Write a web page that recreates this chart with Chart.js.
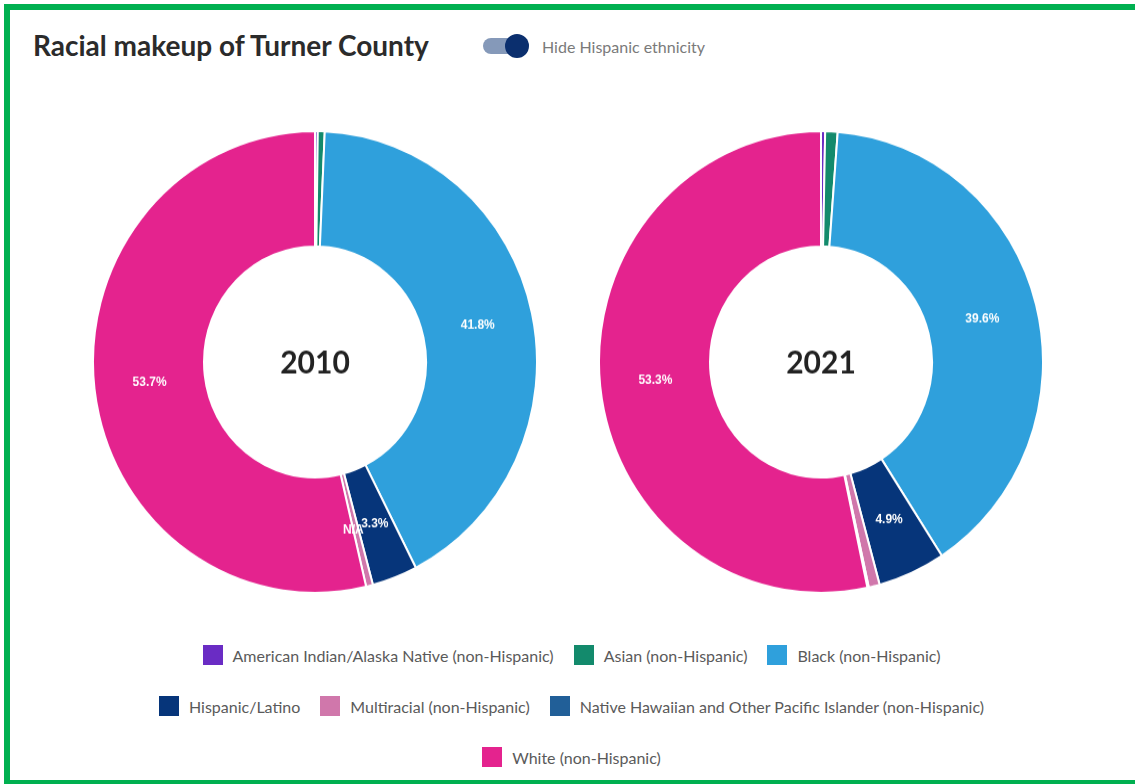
<!DOCTYPE html>
<html>
<head>
<meta charset="utf-8">
<script src="https://cdn.jsdelivr.net/npm/chart.js@4.4.1/dist/chart.umd.min.js"></script>
<style>
  html, body { margin: 0; padding: 0; background: #fff; }
  .page { width: 1135px; height: 784px; overflow: hidden; position: relative; font-family: Lato, "Noto Sans", sans-serif; }
  .frame { position: absolute; left: 4px; top: 4px; width: 1160px; height: 770px; border: 6px solid #00b050; }
  .title { position: absolute; left: 33px; top: 28px; font-size: 28px; font-weight: 700; color: #2b2b2b; white-space: nowrap; }
  .toggle { position: absolute; left: 483px; top: 38px; width: 34px; height: 16px; border-radius: 8px; background: #8599b9; }
  .knob { position: absolute; left: 505px; top: 34px; width: 24px; height: 24px; border-radius: 50%; background: #0b2f6e; }
  .toggle-text { position: absolute; left: 542px; top: 37px; font-size: 16px; color: #7a7a7a; white-space: nowrap; }
  .chart-box { position: absolute; top: 139px; width: 446px; height: 446px; transform: scaleY(1.04); transform-origin: 50% 50%; }
  .legend { position: absolute; left: 0; width: 1143px; top: 645px; }
  .legend-row { display: flex; justify-content: center; height: 51px; }
  .legend-item { display: flex; align-items: flex-start; margin: 0 10px; font-size: 16px; color: #5a5a5a; white-space: nowrap; }
  .legend-item span.box { width: 20px; height: 20px; margin-right: 10px; display: inline-block; }
  .legend-item span.txt { line-height: 21px; }
</style>
</head>
<body>
<div class="page">
<div class="frame"></div>
<div class="title">Racial makeup of Turner County</div>
<div class="toggle"></div>
<div class="knob"></div>
<div class="toggle-text">Hide Hispanic ethnicity</div>
<div class="chart-box" style="left:92px"><canvas id="chart2010"></canvas></div>
<div class="chart-box" style="left:598px"><canvas id="chart2021"></canvas></div>
<div class="legend" id="legend"></div>
</div>

<script>
// Data
const categories = [
    'American Indian/Alaska Native (non-Hispanic)',
    'Asian (non-Hispanic)',
    'Black (non-Hispanic)',
    'Hispanic/Latino',
    'Multiracial (non-Hispanic)',
    'Native Hawaiian and Other Pacific Islander (non-Hispanic)',
    'White (non-Hispanic)'
];
const colors = ['#6a2cc4', '#138a6c', '#2fa0dc', '#06357a', '#d077ab', '#215f98', '#e4238e'];

const years = ['2010', '2021'];
const values2010 = [0.2, 0.5, 41.8, 3.3, 0.5, null, 53.7];
const values2021 = [0.3, 0.9, 39.6, 4.9, 0.8, 0.1, 53.3];

const legendBreaks = [3, 6];

// Slice labels and centre text
const sliceLabels = {
    id: 'sliceLabels',
    afterDatasetsDraw(chart, args, opts) {
        const ctx = chart.ctx;
        const meta = chart.getDatasetMeta(0);
        const data = chart.data.datasets[0].data;
        ctx.save();
        ctx.fillStyle = '#fff';
        ctx.font = 'bold 12px "Liberation Sans", Arial, sans-serif';
        ctx.textAlign = 'center';
        ctx.textBaseline = 'middle';
        meta.data.forEach((arc, i) => {
            const v = data[i];
            let text = null;
            if (v === null) text = 'N/A';
            else if (v >= 2) text = v.toFixed(1) + '%';
            if (!text) return;
            const p = arc.tooltipPosition();
            ctx.fillText(text, p.x, p.y);
        });
        const c = meta.data[0];
        ctx.fillStyle = '#222';
        ctx.font = 'bold 30px Lato, "Noto Sans", sans-serif';
        ctx.fillText(opts.text, c.x, c.y + 1);
        ctx.restore();
    }
};

function makeChart(id, year, values) {
    return new Chart(document.getElementById(id), {
        type: 'doughnut',
        data: {
            labels: categories,
            datasets: [{
                data: values,
                backgroundColor: colors,
                borderColor: '#fff',
                borderWidth: 2
            }]
        },
        options: {
            responsive: true,
            maintainAspectRatio: false,
            animation: false,
            cutout: '50%',
            plugins: {
                legend: { display: false },
                tooltip: { enabled: false },
                sliceLabels: { text: year }
            }
        },
        plugins: [sliceLabels]
    });
}

makeChart('chart2010', years[0], values2010);
makeChart('chart2021', years[1], values2021);

// Legend
const legend = document.getElementById('legend');
let start = 0;
[...legendBreaks, categories.length].forEach(end => {
    const row = document.createElement('div');
    row.className = 'legend-row';
    for (let i = start; i < end; i++) {
        const item = document.createElement('div');
        item.className = 'legend-item';
        item.innerHTML = `<span class="box" style="background:${colors[i]}"></span><span class="txt">${categories[i]}</span>`;
        row.appendChild(item);
    }
    legend.appendChild(row);
    start = end;
});
</script>
</body>
</html>
